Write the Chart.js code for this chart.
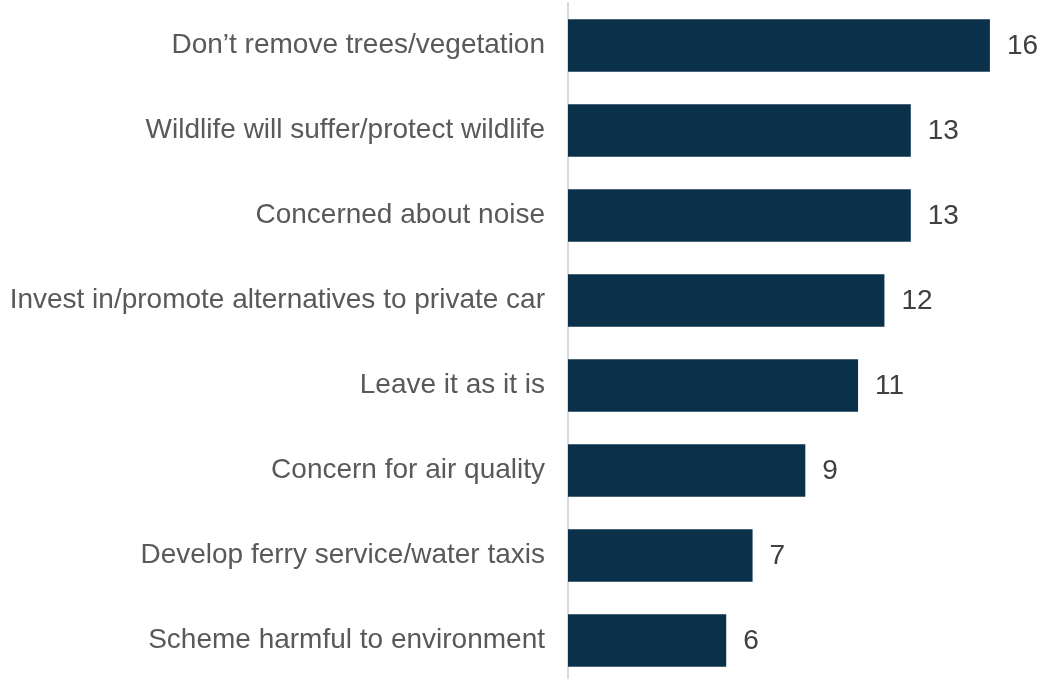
<!DOCTYPE html>
<html>
<head>
<meta charset="utf-8">
<script src="https://cdn.jsdelivr.net/npm/chart.js@4/dist/chart.umd.min.js"></script>
<style>
  html, body { margin: 0; padding: 0; background: #ffffff; overflow: hidden; }
  #wrap { width: 1040px; height: 683px; }
</style>
</head>
<body>
<div id="wrap"><canvas id="canvas"></canvas></div>
<script>
// Responses, most mentioned first
const categories = [
    "Don\u2019t remove trees/vegetation",
    "Wildlife will suffer/protect wildlife",
    "Concerned about noise",
    "Invest in/promote alternatives to private car",
    "Leave it as it is",
    "Concern for air quality",
    "Develop ferry service/water taxis",
    "Scheme harmful to environment"
];
const counts = [16, 13, 13, 12, 11, 9, 7, 6];

const barColor = '#0b3049';
const labelFont = { family: 'Arial, "Liberation Sans", sans-serif', size: 28 };

// writes the count just past the end of each bar
const valueLabels = {
    id: 'valueLabels',
    afterDatasetsDraw(chart) {
        const ctx = chart.ctx;
        const meta = chart.getDatasetMeta(0);
        ctx.save();
        ctx.font = labelFont.size + 'px ' + labelFont.family;
        ctx.fillStyle = '#404040';
        ctx.textAlign = 'left';
        ctx.textBaseline = 'middle';
        meta.data.forEach((bar, i) => {
            ctx.fillText(String(counts[i]), bar.x + 17, bar.y + 1);
        });
        ctx.restore();
    }
};

const config = {
    type: 'bar',
    data: {
        labels: categories,
        datasets: [{
            data: counts,
            backgroundColor: barColor,
            borderWidth: 0,
            barPercentage: 0.62,
            categoryPercentage: 1
        }]
    },
    options: {
        indexAxis: 'y',
        responsive: true,
        maintainAspectRatio: false,
        animation: false,
        layout: { padding: { top: 3, bottom: 0, left: 0, right: 0 } },
        plugins: {
            legend: { display: false },
            tooltip: { enabled: false }
        },
        scales: {
            x: {
                display: false,
                min: 0,
                max: 17.9
            },
            y: {
                grid: { display: false, drawTicks: false },
                border: { display: true, color: '#d9d9d9', width: 2 },
                ticks: {
                    color: '#595959',
                    font: labelFont,
                    padding: 23
                },
                afterFit(scale) {
                    // fixed label column, no extra room above/below the bars
                    scale.width = 568;
                    scale.paddingTop = 0;
                    scale.paddingBottom = 0;
                }
            }
        }
    },
    plugins: [valueLabels]
};

new Chart(document.getElementById('canvas'), config);
</script>
</body>
</html>
